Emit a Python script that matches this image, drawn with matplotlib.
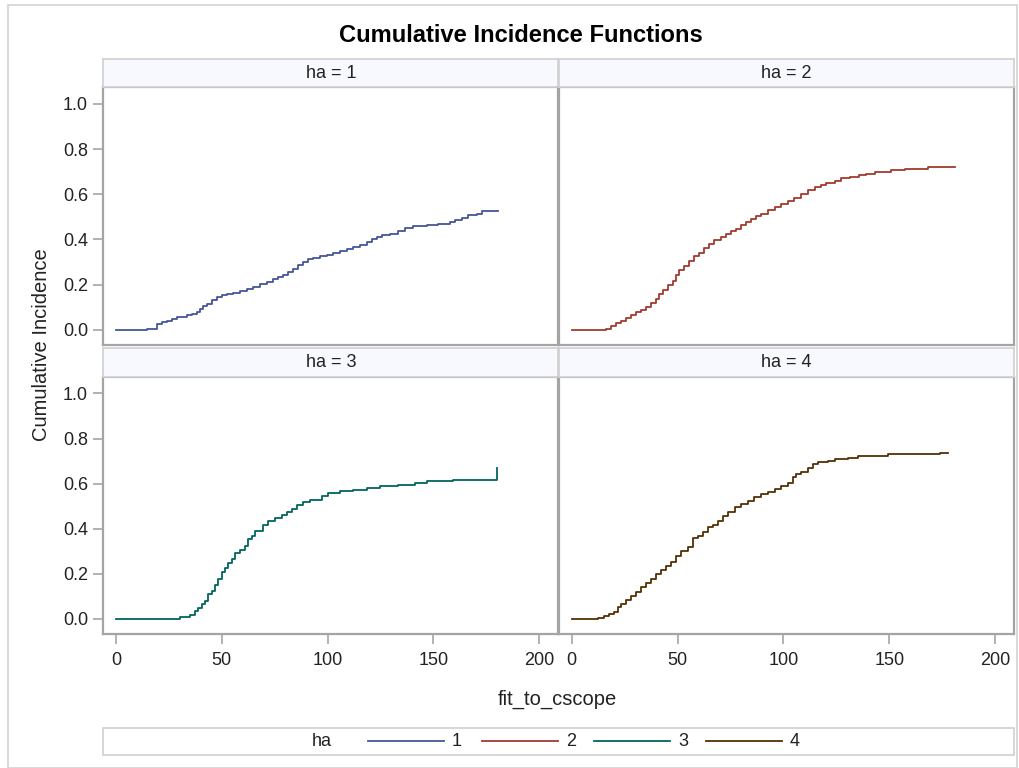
import matplotlib
matplotlib.use("Agg")
import matplotlib.pyplot as plt
from matplotlib.lines import Line2D
from matplotlib.patches import Rectangle

plt.rcParams['font.family'] = ['Liberation Sans', 'DejaVu Sans']

# ---- data ----
groups = ["1", "2", "3", "4"]
colors = ["#445694", "#A23A2E", "#01665E", "#543005"]

t1 = [0, 14.5, 19.2, 21.6, 24.0, 26.3, 28.7, 33.4, 35.8, 38.1, 39.7, 41.3, 42.8, 45.2, 47.6,
      49.9, 52.3, 55.4, 58.6, 61.7, 64.9, 68.0, 71.2, 74.3, 76.7, 79.0, 81.4, 83.8, 86.1, 88.5,
      90.9, 93.2, 96.4, 99.5, 102.7, 105.8, 109.0, 112.1, 115.3, 118.4, 120.8, 123.2, 125.5,
      129.5, 133.4, 136.5, 140.5, 146.8, 152.3, 157.8, 160.2, 163.3, 166.5, 170.4, 172.8, 180.7]
v1 = [0, 0.005, 0.025, 0.032, 0.040, 0.048, 0.055, 0.063, 0.070, 0.078, 0.093, 0.105, 0.115,
      0.130, 0.144, 0.152, 0.156, 0.164, 0.171, 0.181, 0.189, 0.204, 0.211, 0.223, 0.233, 0.240,
      0.255, 0.270, 0.285, 0.302, 0.311, 0.319, 0.326, 0.332, 0.339, 0.347, 0.359, 0.366, 0.376,
      0.388, 0.400, 0.410, 0.418, 0.425, 0.436, 0.450, 0.458, 0.465, 0.470, 0.476, 0.487, 0.496,
      0.507, 0.514, 0.526, 0.526]

t2 = [0, 16.2, 18.6, 21.0, 23.3, 25.7, 28.1, 30.4, 32.8, 35.1, 37.5, 39.9, 41.4, 43.0, 45.4,
      47.7, 49.3, 50.9, 53.2, 55.6, 57.9, 60.3, 62.7, 65.0, 67.4, 70.6, 72.9, 75.3, 77.7, 80.0,
      82.4, 84.7, 87.1, 89.5, 92.6, 95.8, 98.9, 102.1, 105.2, 108.4, 111.5, 114.7, 117.8, 120.2,
      124.1, 127.3, 131.2, 135.9, 139.1, 143.0, 150.9, 157.2, 168.2, 180.8]
v2 = [0, 0.004, 0.018, 0.031, 0.040, 0.050, 0.065, 0.077, 0.087, 0.102, 0.120, 0.134, 0.156,
      0.175, 0.197, 0.215, 0.241, 0.263, 0.282, 0.303, 0.325, 0.341, 0.362, 0.381, 0.396, 0.410,
      0.425, 0.436, 0.447, 0.462, 0.477, 0.492, 0.504, 0.514, 0.529, 0.544, 0.556, 0.569, 0.584,
      0.599, 0.618, 0.633, 0.643, 0.652, 0.658, 0.670, 0.677, 0.684, 0.692, 0.699, 0.707, 0.714,
      0.722, 0.722]

t3 = [0, 30.3, 34.9, 37.3, 38.9, 40.5, 42.0, 43.6, 45.2, 46.8, 48.3, 49.9, 51.5, 53.1, 54.6,
      56.2, 58.6, 60.9, 62.5, 64.1, 65.7, 69.6, 71.9, 75.1, 78.3, 80.6, 83.0, 85.3, 88.5, 91.7,
      97.2, 100.3, 105.8, 112.1, 118.4, 124.7, 133.4, 141.3, 146.8, 159.4, 180.2]
v3 = [0, 0.007, 0.018, 0.037, 0.047, 0.066, 0.081, 0.111, 0.126, 0.151, 0.177, 0.207, 0.225,
      0.248, 0.266, 0.292, 0.307, 0.325, 0.355, 0.370, 0.392, 0.417, 0.436, 0.447, 0.462, 0.473,
      0.488, 0.506, 0.517, 0.529, 0.544, 0.559, 0.566, 0.573, 0.579, 0.588, 0.596, 0.603, 0.610,
      0.618, 0.668]

t4 = [0, 12.3, 15.4, 17.8, 20.2, 21.7, 23.3, 25.7, 28.1, 30.4, 32.8, 35.1, 37.5, 39.9, 42.2,
      44.6, 46.9, 49.3, 51.7, 54.8, 57.2, 59.5, 61.9, 64.3, 66.6, 69.0, 71.3, 73.7, 76.9, 80.0,
      83.2, 86.3, 89.5, 92.6, 95.8, 98.9, 102.1, 104.4, 106.0, 108.4, 111.5, 113.9, 116.2, 121.0,
      124.1, 130.4, 135.1, 149.3, 173.7, 177.6]
v4 = [0, 0.004, 0.012, 0.021, 0.030, 0.052, 0.066, 0.084, 0.103, 0.121, 0.140, 0.159, 0.177,
      0.200, 0.219, 0.236, 0.254, 0.278, 0.303, 0.318, 0.358, 0.370, 0.384, 0.407, 0.417, 0.436,
      0.458, 0.476, 0.495, 0.510, 0.525, 0.539, 0.554, 0.564, 0.576, 0.588, 0.603, 0.628, 0.643,
      0.653, 0.668, 0.687, 0.695, 0.700, 0.708, 0.715, 0.724, 0.730, 0.737, 0.737]

times = [t1, t2, t3, t4]
values = [v1, v2, v3, v4]

xticks = [0, 50, 100, 150, 200]
yticks = [0.0, 0.2, 0.4, 0.6, 0.8, 1.0]

# ---- layout ----
W, H = 1019, 768
fig = plt.figure(figsize=(W / 100, H / 100), dpi=100)

def fx(px):
    return px / W

def fy(py):
    return 1 - py / H

frame_col = "#A4A4A4"
strip_edge = "#D0D0D0"
strip_face = "#F8F9FE"
text_col = "#222222"
val_fs = 13
lab_fs = 14.5

# outer border
fig.patches.append(Rectangle((fx(8), 0), fx(1017) - fx(8), fy(5), transform=fig.transFigure,
                             fill=False, edgecolor="#D3D3D3", linewidth=1.2))

col_x = [(103.3, 558.3), (559.0, 1014.3)]
row_y = [(87.3, 345.0), (376.7, 634.3)]
strip_y = [(59.0, 87.3), (347.7, 376.7)]

for i in range(4):
    r, c = divmod(i, 2)
    x0, x1 = col_x[c]
    y0, y1 = row_y[r]
    ax = fig.add_axes([fx(x0), fy(y1), fx(x1) - fx(x0), fy(y0) - fy(y1)])
    ax.step(times[i], values[i], where="post", color=colors[i], linewidth=1.3)
    ax.set_xlim(-6, 209)
    ax.set_ylim(-0.068, 1.074)
    for s in ax.spines.values():
        s.set_color(frame_col)
        s.set_linewidth(1.6)
    ax.set_xticks(xticks)
    ax.set_yticks(yticks)
    ax.tick_params(axis="both", colors=frame_col, labelcolor=text_col, labelsize=val_fs,
                   length=7, width=1.2, direction="out")
    ax.tick_params(axis="y", pad=4)
    ax.tick_params(axis="x", pad=6)
    if c == 0:
        ax.set_yticklabels([f"{v:.1f}" for v in yticks])
    else:
        ax.tick_params(axis="y", left=False, labelleft=False)
    if r == 1:
        ax.set_xticklabels([str(v) for v in xticks])
    else:
        ax.tick_params(axis="x", bottom=False, labelbottom=False)

    sy0, sy1 = strip_y[r]
    sax = fig.add_axes([fx(x0), fy(sy1), fx(x1) - fx(x0), fy(sy0) - fy(sy1)])
    sax.set_facecolor(strip_face)
    sax.set_xticks([])
    sax.set_yticks([])
    for s in sax.spines.values():
        s.set_color(strip_edge)
        s.set_linewidth(1.2)
    sax.text(0.5, 0.5, f"ha = {groups[i]}", ha="center", va="center", fontsize=val_fs,
             color=text_col, transform=sax.transAxes)

# title and axis labels
fig.text(fx(521), fy(36), "Cumulative Incidence Functions", ha="center", va="center",
         fontsize=17.1, fontweight="bold", color="#000000")
fig.text(fx(42), fy(345), "Cumulative Incidence", rotation=90, ha="center", va="center",
         fontsize=lab_fs, color=text_col)
fig.text(fx(557), fy(699), "fit_to_cscope", ha="center", va="center", fontsize=lab_fs,
         color=text_col)

# legend
fig.patches.append(Rectangle((fx(102.5), fy(755)), fx(1014) - fx(102.5), fy(727.5) - fy(755),
                             transform=fig.transFigure, fill=True, facecolor="white",
                             edgecolor=strip_edge, linewidth=1.2))
ly = fy(741)
fig.text(fx(322), ly, "ha", ha="center", va="center", fontsize=val_fs, color=text_col)
leg_starts = [368, 482, 594, 706]
for i in range(4):
    s = leg_starts[i]
    fig.add_artist(Line2D([fx(s), fx(s + 76)], [ly, ly], transform=fig.transFigure,
                          color=colors[i], linewidth=1.3))
    fig.text(fx(s + 89), ly, groups[i], ha="center", va="center", fontsize=val_fs,
             color=text_col)

fig.savefig("out.png", dpi=100)
